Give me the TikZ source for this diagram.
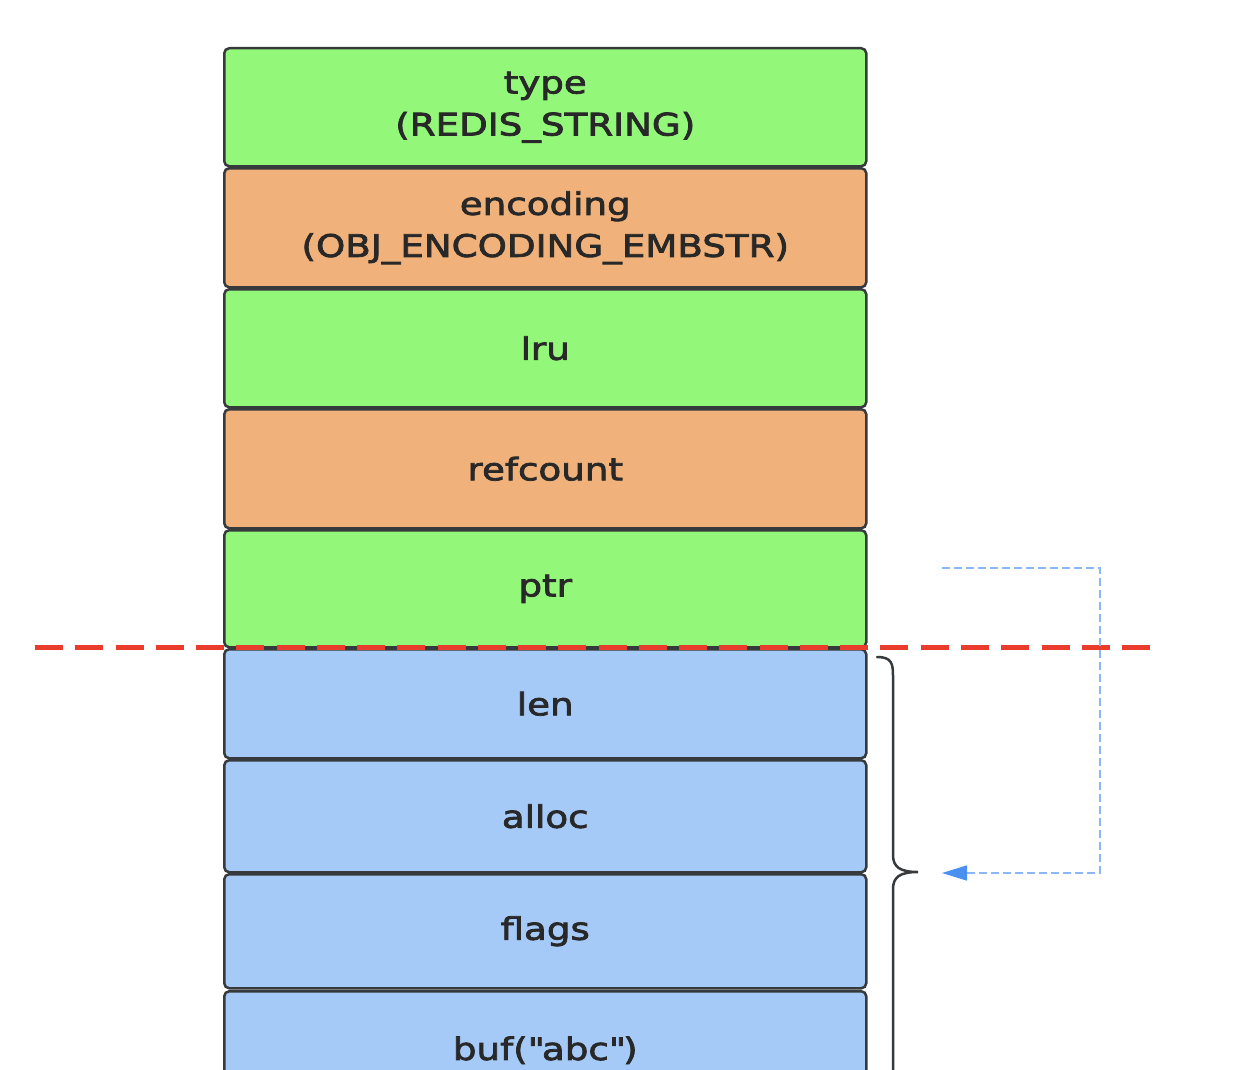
\documentclass[tikz,border=0pt]{standalone}
\usepackage{fontspec}
\setmainfont{DejaVu Sans}[FakeStretch=1.2,FakeBold=2.5]
\usetikzlibrary{arrows.meta}
\definecolor{cgreen}{RGB}{147,247,122}
\definecolor{corange}{RGB}{240,178,122}
\definecolor{cblue}{RGB}{166,202,248}
\definecolor{cline}{RGB}{55,58,60}
\definecolor{ctext}{RGB}{40,40,40}
\definecolor{cred}{RGB}{234,60,45}
\definecolor{cdash}{RGB}{140,182,250}
\definecolor{carrow}{RGB}{74,144,240}
\begin{document}
\begin{tikzpicture}[x=1pt,y=-1pt,
  field/.style={draw=cline,line width=2.5pt,rounded corners=5pt,
    minimum width=642pt,anchor=north west,inner sep=0pt,
    align=center,text=ctext,font=\fontsize{31}{42}\selectfont},
  gfield/.style={field,fill=cgreen},
  ofield/.style={field,fill=corange},
  bfield/.style={field,fill=cblue},
  sepline/.style={draw=cred,line width=5pt,dash pattern=on 28pt off 12.26pt},
  ptrlink/.style={draw=cdash,line width=1.6pt,dash pattern=on 8pt off 4pt,
    -{Triangle[length=25pt,width=15pt,color=carrow]}},
  bracestyle/.style={draw=cline,line width=2.5pt,line cap=round}]
\useasboundingbox (0,0) rectangle (1236,1070);
\clip (0,0) rectangle (1236,1070);
\fill[white] (0,0) rectangle (1236,1070);
\node[gfield,minimum height=118pt] (type) at (223,47) {type\\(REDIS\_STRING)};
\node[ofield,minimum height=119pt] (enc) at (223,167) {encoding\\(OBJ\_ENCODING\_EMBSTR)};
\node[gfield,minimum height=118pt] (lru) at (223,288) {lru};
\node[ofield,minimum height=119pt] (ref) at (223,408) {refcount};
\node[gfield,minimum height=117pt] (ptr) at (223,529) {ptr};
\node[bfield,minimum height=109pt] (len) at (223,648) {len};
\node[bfield,minimum height=112pt] (alloc) at (223,759) {alloc};
\node[bfield,minimum height=114pt] (flags) at (223,873) {flags};
\node[bfield,minimum height=118pt] (buf) at (223,990) {buf(\textquotedbl abc\textquotedbl)};
% separator
\coordinate (sepL) at (35,647);
\coordinate (sepR) at (1150,647);
\draw[sepline] (sepL) -- (sepR);
% brace
\coordinate (brtop) at (877,657);
\coordinate (brtip) at (918,872);
\draw[bracestyle] (brtop) .. controls (892,657) and (893,664) .. (893,676)
  -- (893,855) .. controls (893,867) and (900,872) .. (brtip)
  .. controls (900,872) and (893,877) .. (893,889) -- (893,1090);
% pointer link
\coordinate (pstart) at (942,568);
\coordinate (pcorner1) at (1100,568);
\coordinate (pcorner2) at (1100,873);
\coordinate (pend) at (942,873);
\draw[ptrlink] (pstart) -- (pcorner1) -- (pcorner2) -- (pend);
\end{tikzpicture}
\end{document}
